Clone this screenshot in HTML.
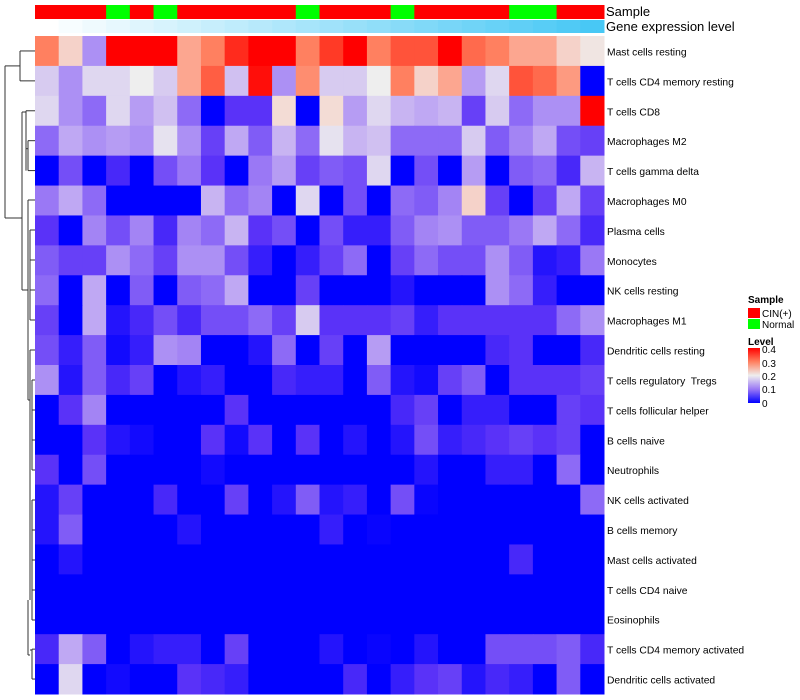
<!DOCTYPE html>
<html><head><meta charset="utf-8">
<style>
html,body{margin:0;padding:0;background:#fff;}
svg{display:block;font-family:"Liberation Sans",sans-serif;}
#rowlabels text{white-space:pre;}
</style></head>
<body>
<svg id="chart" width="800" height="700" xmlns="http://www.w3.org/2000/svg">
  <g id="dendro" stroke="#333" stroke-width="1" fill="none"></g>
  <g id="annot"></g>
  <g id="cells"></g>
  <g id="rowlabels" font-size="10.3" fill="#000"></g>
  <text x="606" y="16" font-size="13">Sample</text>
  <text x="606" y="31" font-size="13">Gene expression level</text>
  <g>
    <text x="748" y="303" font-size="10" font-weight="bold">Sample</text>
    <rect x="748" y="308" width="12" height="10" fill="#ff0000"/>
    <text x="762" y="317" font-size="10">CIN(+)</text>
    <rect x="748" y="319" width="12" height="10" fill="#00ff00"/>
    <text x="762" y="328" font-size="10">Normal</text>
    <text x="748" y="345" font-size="10" font-weight="bold">Level</text>
    <defs><linearGradient id="lg" x1="0" y1="1" x2="0" y2="0">
      <stop offset="0" stop-color="#0000ff"/><stop offset="0.25" stop-color="#9a78f5"/><stop offset="0.5" stop-color="#eeeeee"/><stop offset="0.75" stop-color="#ff8060"/><stop offset="1" stop-color="#ff0000"/>
    </linearGradient></defs>
    <rect x="748" y="348" width="12" height="55" fill="url(#lg)"/>
    <g font-size="10">
      <text x="762" y="353">0.4</text><text x="762" y="380">0.2</text><text x="762" y="367">0.3</text><text x="762" y="393">0.1</text><text x="762" y="407">0</text>
    </g>
  </g>
</svg>
<script>
const rowNames=["Mast cells resting","T cells CD4 memory resting","T cells CD8","Macrophages M2","T cells gamma delta","Macrophages M0","Plasma cells","Monocytes","NK cells resting","Macrophages M1","Dendritic cells resting","T cells regulatory  Tregs","T cells follicular helper","B cells naive","Neutrophils","NK cells activated","B cells memory","Mast cells activated","T cells CD4 naive","Eosinophils","T cells CD4 memory activated","Dendritic cells activated"];
const sampleGroups=["CIN","CIN","CIN","Normal","CIN","Normal","CIN","CIN","CIN","CIN","CIN","Normal","CIN","CIN","CIN","Normal","CIN","CIN","CIN","CIN","Normal","Normal","CIN","CIN"];
const r1=[.3,.23,.12,.4,.4,.4,.27,.3,.37,.4,.4,.3,.36,.4,.3,.34,.34,.4,.32,.3,.27,.27,.23,.21];
const r2=[.17,.12,.18,.18,.2,.17,.27,.33,.16,.39,.12,.29,.17,.17,.2,.3,.23,.27,.13,.18,.34,.32,.28,0];
const r3=[.18,.12,.09,.18,.13,.16,.09,0,.05,.05,.22,0,.22,.13,.18,.15,.14,.15,.06,.17,.09,.12,.12,.4];
const r4=[.09,.14,.12,.13,.12,.19,.12,.06,.14,.08,.15,.09,.19,.15,.16,.09,.09,.09,.17,.08,.11,.14,.07,.06];
const r5=[0,.07,0,.04,0,.07,.1,.05,0,.1,.13,.06,.08,.07,.18,0,.07,0,.13,0,.08,.09,.04,.15];
const r6=[.1,.14,.09,0,0,0,0,.15,.09,.11,0,.18,0,.07,0,.09,.08,.11,.23,.06,0,.06,.14,.06];
const r7=[.05,0,.11,.07,.11,.04,.11,.09,.15,.05,.07,0,.07,.03,.03,.08,.11,.12,.08,.08,.1,.14,.09,.04];
const r8=[.08,.06,.06,.12,.09,.06,.12,.12,.07,.03,0,.03,.06,.09,0,.06,.09,.07,.07,.12,.08,.02,.03,.1];
const r9=[.09,0,.14,0,.08,0,.08,.09,.14,0,0,.06,0,0,0,.02,0,0,0,.12,.09,.03,0,0];
const r10=[.06,0,.14,.02,.04,.07,.04,.07,.07,.09,.06,.17,.05,.05,.05,.06,.03,.05,.05,.05,.05,.05,.09,.12];
const r11=[.07,.03,.08,.01,.03,.12,.11,0,0,.02,.09,0,.06,0,.13,0,0,0,0,.04,.05,0,0,.04];
const r12=[.12,.02,.08,.04,.06,0,.02,.03,0,0,.04,.03,.03,0,.08,.02,.01,.06,.08,0,.05,.05,.05,.06];
const r13=[0,.05,.11,0,0,0,0,0,.05,0,0,0,0,0,0,.04,.06,0,.03,.03,0,0,.06,.05];
const r14=[0,0,.05,.02,.01,0,0,.05,.01,.05,0,.05,0,.02,0,.02,.07,.03,.04,.05,.06,.05,.06,0];
const r15=[.05,0,.07,0,0,0,0,.01,0,0,0,0,0,0,0,0,.02,0,0,.03,.03,0,.09,0];
const r16=[.02,.06,0,0,0,.04,0,0,.06,0,.02,.08,.02,.03,0,.07,.005,0,0,0,0,0,0,.09];
const r17=[.02,.08,0,0,0,0,.02,0,0,0,0,0,.03,0,.005,0,0,0,0,0,0,0,0,0];
const r18=[0,.02,0,0,0,0,0,0,0,0,0,0,0,0,0,0,0,0,0,0,.04,0,0,0];
const r19=[0,0,0,0,0,0,0,0,0,0,0,0,0,0,0,0,0,0,0,0,0,0,0,0];
const r20=[0,0,0,0,0,0,0,0,0,0,0,0,0,0,0,0,0,0,0,0,0,0,0,0];
const r21=[.04,.14,.08,0,.02,.03,.03,0,.06,0,0,0,.02,0,.005,0,.02,0,0,.07,.07,.07,.08,.04];
const r22=[0,.18,0,.01,0,0,.05,.04,.03,0,0,0,0,.04,0,.03,.05,.06,.02,.04,.03,0,.08,0];
const values=[r1,r2,r3,r4,r5,r6,r7,r8,r9,r10,r11,r12,r13,r14,r15,r16,r17,r18,r19,r20,r21,r22];

const NS="http://www.w3.org/2000/svg";
const X0=35,X1=604,Y0=36,Y1=694;
const nC=sampleGroups.length,nR=rowNames.length;
const cw=(X1-X0)/nC,rh=(Y1-Y0)/nR;
const xPos=i=>X0+i*cw, yPos=j=>Y0+j*rh;
const stops=[[0,[0,0,255]],[.05,[90,50,248]],[.1,[154,120,245]],[.15,[200,180,242]],[.2,[238,238,238]],[.25,[250,192,176]],[.3,[255,128,96]],[.35,[255,72,48]],[.4,[255,0,0]]];
function col(v){v=Math.max(0,Math.min(.4,v));for(let k=1;k<stops.length;k++){if(v<=stops[k][0]){const a=stops[k-1],b=stops[k];const t=(v-a[0])/(b[0]-a[0]);const c=a[1].map((x,i)=>Math.round(x+(b[1][i]-x)*t));return `rgb(${c})`;}}return "rgb(255,0,0)";}
function mk(t,attrs,parent){const e=document.createElementNS(NS,t);for(const k in attrs)e.setAttribute(k,attrs[k]);parent.appendChild(e);return e;}

const cells=document.getElementById('cells');
values.forEach((row,j)=>row.forEach((v,i)=>{
  const r=mk('rect',{x:xPos(i),y:yPos(j),width:cw+0.5,height:rh+0.5,fill:col(v)},cells);
  
  
}));
const annot=document.getElementById('annot');
sampleGroups.forEach((g,i)=>{
  const r=mk('rect',{x:xPos(i),y:5,width:cw+0.5,height:14,fill:g==="CIN"?"#ff0000":"#00ff00"},annot);
  
  
  const t=i/(nC-1);
  const c=[255+(72-255)*t,255+(200-255)*t,255+(245-255)*t].map(Math.round);
  const r2e=mk('rect',{x:xPos(i),y:20,width:cw+0.5,height:13,fill:`rgb(${c})`},annot);
  
  
});
const rl=document.getElementById('rowlabels');
rowNames.forEach((n,j)=>{
  const t=mk('text',{x:607,y:yPos(j)+rh/2+4.5},rl);
  t.textContent=n;
  
  
});
const dg=document.getElementById('dendro');
const cy=j=>yPos(j)+rh/2;
const segs=[
 [20,cy(0),35,cy(0)],[20,cy(1),35,cy(1)],[20,cy(0),20,cy(1)],
 [5,(cy(0)+cy(1))/2,20,(cy(0)+cy(1))/2],[5,(cy(0)+cy(1))/2,5,218],[5,218,22,218],
 [22,112,22,290],[22,112,26,112],[26,cy(2),26,cy(4)],[26,cy(2),35,cy(2)],[26,cy(3)+8,28,cy(3)+8],[28,cy(3),28,cy(4)],[28,cy(3),35,cy(3)],[28,cy(4),35,cy(4)],
 [22,290,28,290],[28,200,28,400],[28,200,35,200],[30,230,30,320],[30,230,35,230],[30,260,35,260],[30,290,35,290],[30,320,35,320],
 [28,400,30,400],[30,350,30,600],[30,350,35,350],[32,380,32,470],[32,380,35,380],[32,410,35,410],[32,440,35,440],[32,470,35,470],
 [32,500,32,620],[32,500,35,500],[32,530,35,530],[32,560,35,560],[32,590,35,590],[32,620,35,620],
 [30,650,32,650],[28,655,30,655],[28,600,28,655],[32,cy(20),32,cy(21)],[32,cy(20),35,cy(20)],[32,cy(21),35,cy(21)]
];
segs.forEach(s=>{
  const l=mk('line',{x1:s[0],y1:s[1],x2:s[2],y2:s[3]},dg);
  
  
});
</script>
</body></html>
